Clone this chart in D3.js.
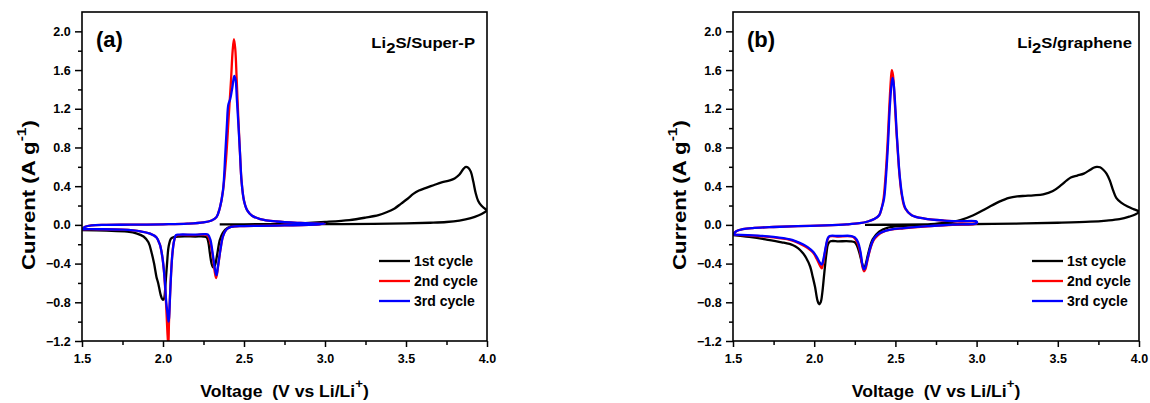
<!DOCTYPE html>
<html>
<head>
<meta charset="utf-8">
<script src="https://cdn.jsdelivr.net/npm/d3@7"></script>
<style>
  body { margin: 0; background: #fff; }
  text { font-family: Arial, "Liberation Sans", sans-serif; font-weight: bold; fill: #000; white-space: pre; }
</style>
</head>
<body>
<svg id="chart" width="1150" height="403"></svg>
<script>
// axis ranges and ticks
var xDomain = [1.5, 4.0];
var yDomain = [-1.2, 2.2];
var xTicks = [1.5, 2.0, 2.5, 3.0, 3.5, 4.0];
var yTicks = [-1.2, -0.8, -0.4, 0.0, 0.4, 0.8, 1.2, 1.6, 2.0];
var legendLabels = ["1st cycle", "2nd cycle", "3rd cycle"];
var cycleColors = ["#000000", "#ff0000", "#0000ff"];

// (a) Li2S/Super-P  -- [voltage, current]
var superP_cycle1 = [
  [2.35,0.005],[2.5,0.006],[2.7,0.007],[3.0,0.008],[3.3,0.01],[3.5,0.015],[3.65,0.022],[3.75,0.03],
  [3.83,0.045],[3.9,0.07],[3.95,0.1],[3.98,0.125],[4.0,0.15],
  [3.985,0.17],[3.965,0.2],[3.945,0.25],[3.93,0.33],[3.915,0.45],[3.9,0.55],[3.885,0.59],[3.87,0.6],
  [3.855,0.58],[3.83,0.52],[3.8,0.48],[3.77,0.46],[3.72,0.44],[3.67,0.41],[3.62,0.38],[3.58,0.355],
  [3.545,0.32],[3.51,0.27],[3.47,0.22],[3.43,0.17],[3.38,0.13],[3.33,0.1],[3.25,0.075],[3.15,0.05],
  [3.0,0.03],[2.85,0.015],[2.7,0.005],[2.55,-0.005],[2.45,-0.012],[2.4,-0.03],[2.37,-0.08],[2.35,-0.16],
  [2.335,-0.3],[2.32,-0.42],[2.31,-0.44],[2.3,-0.4],[2.29,-0.3],[2.28,-0.18],[2.27,-0.13],[2.25,-0.12],
  [2.2,-0.12],[2.1,-0.12],[2.07,-0.125],[2.05,-0.14],[2.035,-0.22],[2.025,-0.4],[2.015,-0.62],
  [2.007,-0.76],[2.0,-0.775],[1.993,-0.76],[1.985,-0.72],[1.97,-0.6],[1.96,-0.54],[1.945,-0.4],
  [1.93,-0.29],[1.91,-0.18],[1.88,-0.12],[1.84,-0.09],[1.78,-0.07],[1.65,-0.06],[1.5,-0.055]
];
var superP_cycle2 = [
  [1.5,-0.05],[1.52,-0.02],[1.56,-0.005],[1.65,0.0],[1.8,0.002],[2.0,0.006],[2.15,0.012],[2.25,0.025],
  [2.3,0.045],[2.33,0.08],[2.35,0.17],[2.37,0.35],[2.39,0.7],[2.405,1.1],[2.42,1.5],[2.43,1.8],
  [2.438,1.92],[2.446,1.82],[2.455,1.5],[2.465,1.1],[2.475,0.75],[2.485,0.45],[2.5,0.25],[2.52,0.15],
  [2.55,0.095],[2.6,0.06],[2.7,0.035],[2.85,0.02],[3.0,0.012],
  [2.9,0.0],[2.75,-0.005],[2.6,-0.01],[2.5,-0.013],[2.42,-0.02],[2.39,-0.05],[2.37,-0.12],[2.355,-0.25],
  [2.34,-0.43],[2.328,-0.55],[2.318,-0.47],[2.305,-0.3],[2.29,-0.17],[2.275,-0.11],[2.26,-0.1],
  [2.2,-0.105],[2.1,-0.105],[2.08,-0.11],[2.068,-0.17],[2.058,-0.3],[2.05,-0.5],[2.043,-0.75],
  [2.037,-1.0],[2.033,-1.25],[2.027,-1.1],[2.02,-0.85],[2.012,-0.62],[2.005,-0.46],[1.995,-0.32],
  [1.98,-0.2],[1.96,-0.13],[1.92,-0.09],[1.86,-0.066],[1.75,-0.05],[1.6,-0.045],[1.5,-0.045]
];
var superP_cycle3 = [
  [1.5,-0.045],[1.52,-0.02],[1.56,-0.005],[1.65,0.0],[1.8,0.002],[2.0,0.006],[2.15,0.012],[2.25,0.025],
  [2.3,0.045],[2.33,0.08],[2.35,0.17],[2.37,0.35],[2.385,0.75],[2.395,1.05],[2.403,1.24],[2.415,1.3],
  [2.428,1.42],[2.44,1.54],[2.448,1.5],[2.456,1.3],[2.465,1.05],[2.475,0.75],[2.485,0.45],[2.5,0.25],
  [2.52,0.15],[2.55,0.095],[2.6,0.06],[2.7,0.035],[2.85,0.02],[3.0,0.012],
  [2.9,0.0],[2.75,-0.005],[2.6,-0.01],[2.5,-0.013],[2.42,-0.02],[2.39,-0.05],[2.37,-0.12],[2.355,-0.25],
  [2.34,-0.42],[2.33,-0.52],[2.32,-0.45],[2.307,-0.3],[2.292,-0.15],[2.278,-0.1],[2.26,-0.095],
  [2.2,-0.1],[2.1,-0.1],[2.08,-0.105],[2.068,-0.17],[2.058,-0.3],[2.05,-0.5],[2.043,-0.75],
  [2.037,-0.97],[2.034,-1.0],[2.028,-0.92],[2.02,-0.8],[2.012,-0.6],[2.005,-0.46],[1.995,-0.32],
  [1.98,-0.2],[1.96,-0.13],[1.92,-0.09],[1.86,-0.066],[1.75,-0.05],[1.6,-0.045],[1.5,-0.045]
];

// (b) Li2S/graphene
var graphene_cycle1 = [
  [2.313,0.0],[2.5,0.002],[2.8,0.005],[3.1,0.01],[3.3,0.015],[3.5,0.022],[3.7,0.033],[3.8,0.045],
  [3.88,0.06],[3.94,0.085],[3.98,0.11],[4.0,0.137],
  [3.97,0.16],[3.93,0.19],[3.89,0.23],[3.86,0.28],[3.84,0.36],[3.82,0.46],[3.8,0.53],[3.78,0.57],
  [3.76,0.595],[3.74,0.6],[3.72,0.59],[3.7,0.57],[3.66,0.53],[3.62,0.51],[3.58,0.49],[3.555,0.46],
  [3.52,0.41],[3.47,0.35],[3.41,0.315],[3.35,0.305],[3.3,0.3],[3.25,0.295],[3.2,0.28],[3.14,0.24],
  [3.06,0.17],[2.98,0.1],[2.9,0.05],[2.8,0.02],[2.7,0.005],[2.55,-0.01],[2.45,-0.03],[2.4,-0.07],
  [2.36,-0.15],[2.335,-0.28],[2.315,-0.42],[2.307,-0.45],[2.295,-0.4],[2.28,-0.3],[2.265,-0.22],
  [2.25,-0.18],[2.22,-0.17],[2.15,-0.17],[2.1,-0.17],[2.085,-0.2],[2.075,-0.3],[2.062,-0.5],
  [2.05,-0.7],[2.04,-0.8],[2.03,-0.82],[2.02,-0.78],[2.005,-0.64],[1.99,-0.53],[1.975,-0.43],
  [1.95,-0.34],[1.93,-0.29],[1.9,-0.24],[1.87,-0.21],[1.8,-0.18],[1.7,-0.15],[1.6,-0.125],[1.5,-0.105]
];
var graphene_cycle2 = [
  [1.5,-0.1],[1.52,-0.065],[1.56,-0.045],[1.62,-0.033],[1.75,-0.022],[1.9,-0.013],[2.07,-0.005],
  [2.2,0.005],[2.28,0.017],[2.33,0.035],[2.37,0.06],[2.4,0.1],[2.415,0.17],[2.427,0.27],[2.44,0.52],
  [2.452,0.85],[2.462,1.2],[2.472,1.5],[2.478,1.6],[2.485,1.55],[2.495,1.3],[2.505,1.0],[2.515,0.75],
  [2.525,0.52],[2.54,0.3],[2.56,0.17],[2.6,0.1],[2.68,0.065],[2.8,0.045],[2.9,0.035],[3.0,0.03],
  [3.0,0.015],[2.85,0.0],[2.7,-0.015],[2.55,-0.035],[2.47,-0.05],[2.42,-0.075],[2.39,-0.11],
  [2.365,-0.16],[2.345,-0.25],[2.33,-0.35],[2.315,-0.46],[2.307,-0.48],[2.298,-0.44],[2.285,-0.3],
  [2.27,-0.2],[2.25,-0.14],[2.23,-0.12],[2.15,-0.12],[2.095,-0.12],[2.083,-0.15],[2.072,-0.23],
  [2.062,-0.33],[2.052,-0.42],[2.046,-0.45],[2.035,-0.42],[2.015,-0.35],[1.995,-0.29],[1.96,-0.24],
  [1.93,-0.21],[1.88,-0.17],[1.85,-0.155],[1.75,-0.13],[1.65,-0.115],[1.5,-0.1]
];
var graphene_cycle3 = [
  [1.5,-0.1],[1.52,-0.065],[1.56,-0.045],[1.62,-0.033],[1.75,-0.022],[1.9,-0.013],[2.07,-0.005],
  [2.2,0.005],[2.28,0.017],[2.33,0.035],[2.37,0.06],[2.4,0.1],[2.415,0.17],[2.43,0.27],[2.443,0.52],
  [2.455,0.85],[2.465,1.2],[2.476,1.45],[2.483,1.52],[2.49,1.45],[2.5,1.2],[2.508,0.95],[2.517,0.72],
  [2.527,0.5],[2.542,0.3],[2.562,0.17],[2.6,0.1],[2.68,0.065],[2.8,0.045],[2.9,0.038],[3.0,0.035],
  [3.0,0.018],[2.85,0.002],[2.7,-0.013],[2.55,-0.033],[2.47,-0.048],[2.42,-0.072],[2.39,-0.1],
  [2.365,-0.15],[2.345,-0.24],[2.33,-0.34],[2.315,-0.44],[2.307,-0.46],[2.298,-0.42],[2.285,-0.28],
  [2.27,-0.18],[2.25,-0.13],[2.23,-0.115],[2.15,-0.115],[2.095,-0.115],[2.083,-0.14],[2.072,-0.22],
  [2.062,-0.31],[2.052,-0.39],[2.046,-0.41],[2.035,-0.39],[2.015,-0.33],[1.995,-0.28],[1.96,-0.23],
  [1.93,-0.2],[1.88,-0.165],[1.85,-0.15],[1.75,-0.125],[1.65,-0.11],[1.5,-0.1]
];

var svg = d3.select('#chart');

function drawPanel(left, right, top, bottom, cycles, tag, sample, sampleRight, legendX) {
   var xScale = d3.scaleLinear().domain(xDomain).range([left, right]);
   var yScale = d3.scaleLinear().domain(yDomain).range([bottom, top]);
   var g = svg.append('g');
   var clipId = 'clip-' + tag;

   g.append('clipPath').attr('id', clipId)
      .append('rect')
      .attr('x', left).attr('y', top)
      .attr('width', right - left).attr('height', bottom - top);

   // minor ticks
   var xMinor = d3.range(1.75, 4.0, 0.5);
   var yMinor = d3.range(-1.0, 2.2, 0.4);

   var xAxis = d3.axisBottom(xScale).tickValues(xTicks).tickFormat(d3.format('.1f')).tickSize(6).tickSizeOuter(0);
   var yAxis = d3.axisLeft(yScale).tickValues(yTicks).tickFormat(d3.format('.1f')).tickSize(7).tickSizeOuter(0);

   var gx = g.append('g').attr('transform', 'translate(0,' + bottom + ')').call(xAxis);
   var gy = g.append('g').attr('transform', 'translate(' + left + ',0)').call(yAxis);
   g.append('g').attr('transform', 'translate(0,' + bottom + ')')
      .call(d3.axisBottom(xScale).tickValues(xMinor).tickSize(4).tickFormat('').tickSizeOuter(0));
   g.append('g').attr('transform', 'translate(' + left + ',0)')
      .call(d3.axisLeft(yScale).tickValues(yMinor).tickSize(4).tickFormat('').tickSizeOuter(0));

   g.selectAll('.domain').remove();
   g.selectAll('.tick line').attr('stroke', '#000').attr('stroke-width', 1.5);
   gx.selectAll('text').attr('font-size', 12.5).attr('dy', '1.05em');
   gy.selectAll('text').attr('font-size', 12.5).attr('dx', '-0.1em');

   // curves
   var line = d3.line()
      .x(function (d) { return xScale(d[0]); })
      .y(function (d) { return yScale(d[1]); })
      .curve(d3.curveCatmullRom.alpha(0.5));

   cycles.forEach(function (c, i) {
      g.append('path')
         .attr('d', line(c))
         .attr('fill', 'none')
         .attr('stroke', cycleColors[i])
         .attr('stroke-width', 2.3)
         .attr('stroke-linejoin', 'round')
         .attr('clip-path', 'url(#' + clipId + ')');
   });

   // frame
   g.append('rect')
      .attr('x', left).attr('y', top)
      .attr('width', right - left).attr('height', bottom - top)
      .attr('fill', 'none').attr('stroke', '#000').attr('stroke-width', 1.6);

   // panel tag and sample name
   g.append('text').attr('x', left + 14).attr('y', top + 35).attr('font-size', 22).text('(' + tag + ')');
   var s = g.append('g').attr('transform', 'translate(' + sampleRight + ',' + (top + 36) + ') scale(1.19,1)')
      .append('text').attr('font-size', 14).attr('text-anchor', 'end');
   s.append('tspan').text('Li');
   s.append('tspan').attr('dy', 5).text('2');
   s.append('tspan').attr('dy', -5).text('S/' + sample);

   // legend
   legendLabels.forEach(function (lab, i) {
      var ly = 261 + i * 20;
      g.append('line')
         .attr('x1', legendX).attr('x2', legendX + 31)
         .attr('y1', ly).attr('y2', ly)
         .attr('stroke', cycleColors[i]).attr('stroke-width', 2.3);
      g.append('text').attr('x', legendX + 35).attr('y', ly + 5).attr('font-size', 14).text(lab);
   });

   // axis titles
   var xt = g.append('g').attr('transform', 'translate(' + ((left + right) / 2) + ',397) scale(1.1,1)')
      .append('text').attr('text-anchor', 'middle').attr('font-size', 16);
   xt.append('tspan').text('Voltage  (V vs Li/Li');
   xt.append('tspan').attr('dy', -9).attr('font-size', 12).text('+');
   xt.append('tspan').attr('dy', 9).text(')');

   var yt = g.append('g')
      .attr('transform', 'translate(' + (left - 47) + ',195) rotate(-90) scale(1.2,1)')
      .append('text').attr('text-anchor', 'middle').attr('font-size', 18.5);
   yt.append('tspan').text('Current (A g');
   yt.append('tspan').attr('dy', -9).attr('font-size', 13).text('-1');
   yt.append('tspan').attr('dy', 9).text(')');
}

drawPanel(82, 487, 12, 341, [superP_cycle1, superP_cycle2, superP_cycle3], 'a', 'Super-P', 475, 379);
drawPanel(733, 1139, 12, 341, [graphene_cycle1, graphene_cycle2, graphene_cycle3], 'b', 'graphene', 1132, 1032);
</script>
</body>
</html>
